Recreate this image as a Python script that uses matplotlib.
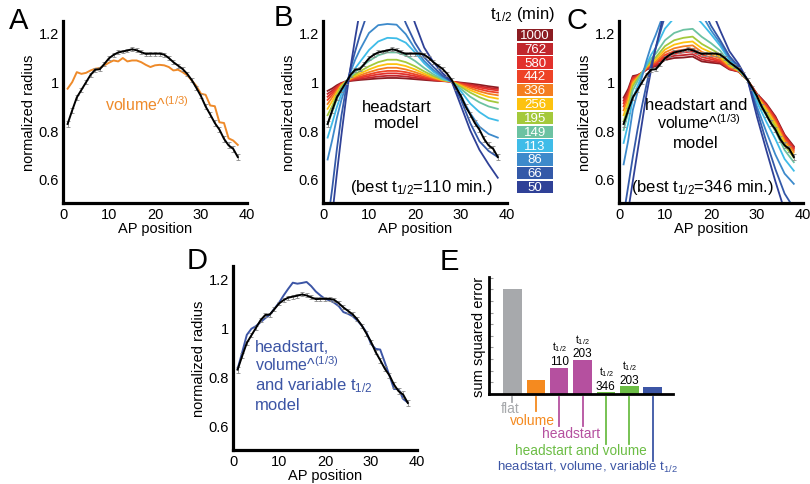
import matplotlib
matplotlib.use("Agg")
import matplotlib.pyplot as plt
import matplotlib.transforms as mtransforms

plt.rcParams['font.family'] = ['Liberation Sans', 'DejaVu Sans']
plt.rcParams['mathtext.fontset'] = 'custom'
plt.rcParams['mathtext.rm'] = 'Liberation Sans'
plt.rcParams['mathtext.it'] = 'Liberation Sans:italic'
plt.rcParams['mathtext.bf'] = 'Liberation Sans:bold'
plt.rcParams['mathtext.sf'] = 'Liberation Sans'

# ---------------- data ----------------
ap_position = list(range(1, 39))
data_radius = [0.826, 0.882, 0.935, 0.966, 0.997, 1.028, 1.049, 1.051, 1.073, 1.096,
               1.110, 1.120, 1.124, 1.128, 1.133, 1.129, 1.121, 1.114, 1.115, 1.115,
               1.115, 1.111, 1.097, 1.080, 1.066, 1.052, 1.032, 1.006, 0.974, 0.940,
               0.898, 0.865, 0.830, 0.803, 0.765, 0.738, 0.724, 0.690]
data_err = [0.012, 0.010, 0.009, 0.008, 0.008, 0.008, 0.008, 0.008, 0.008, 0.008,
            0.008, 0.008, 0.008, 0.008, 0.008, 0.008, 0.008, 0.008, 0.008, 0.008,
            0.008, 0.008, 0.008, 0.008, 0.008, 0.008, 0.008, 0.008, 0.009, 0.009,
            0.010, 0.010, 0.011, 0.011, 0.012, 0.012, 0.013, 0.014]
volume_radius = [0.971, 0.998, 1.039, 1.032, 1.036, 1.046, 1.053, 1.056, 1.067, 1.078,
                 1.087, 1.083, 1.097, 1.083, 1.087, 1.087, 1.080, 1.069, 1.060, 1.067,
                 1.069, 1.067, 1.060, 1.046, 1.049, 1.039, 1.026, 1.005, 0.982, 0.950,
                 0.946, 0.902, 0.899, 0.833, 0.830, 0.767, 0.758, 0.740]
variable_radius = [0.829, 0.897, 0.968, 0.993, 1.004, 1.020, 1.036, 1.050, 1.075, 1.099,
                   1.129, 1.156, 1.181, 1.177, 1.180, 1.184, 1.167, 1.145, 1.129, 1.115,
                   1.109, 1.099, 1.085, 1.061, 1.054, 1.044, 1.027, 1.006, 0.979, 0.931,
                   0.911, 0.908, 0.856, 0.802, 0.747, 0.747, 0.706, 0.692]

model_x = [1, 2, 3, 4, 5, 6, 7, 8, 10, 12, 14, 16, 18, 20, 22, 24, 26, 28, 30, 32, 34, 36, 38]
half_lives = [1000, 762, 580, 442, 336, 256, 195, 149, 113, 86, 66, 50]
half_life_colors = ['#8B1C22', '#C1272D', '#E2312C', '#EE4327', '#F47E20', '#FDC20F',
                    '#A4C93B', '#6CC2A2', '#3FBCE8', '#3D8ACB', '#3459A8', '#2F4197']

# headstart model (panel B)
hs_1000 = [0.962, 0.972, 0.985, 0.995, 1.000, 1.003, 1.005, 1.007, 1.010, 1.013, 1.015, 1.015, 1.013, 1.010, 1.007, 1.004, 1.002, 1.000, 0.996, 0.992, 0.987, 0.981, 0.976]
hs_762 = [0.950, 0.963, 0.980, 0.993, 1.000, 1.005, 1.008, 1.011, 1.016, 1.021, 1.024, 1.024, 1.021, 1.016, 1.011, 1.006, 1.003, 1.000, 0.994, 0.988, 0.981, 0.975, 0.970]
hs_580 = [0.938, 0.955, 0.976, 0.991, 1.000, 1.007, 1.012, 1.016, 1.023, 1.030, 1.034, 1.034, 1.030, 1.023, 1.015, 1.008, 1.003, 1.000, 0.992, 0.984, 0.976, 0.969, 0.964]
hs_442 = [0.925, 0.946, 0.970, 0.989, 1.000, 1.009, 1.015, 1.020, 1.030, 1.039, 1.044, 1.044, 1.039, 1.030, 1.020, 1.011, 1.004, 1.000, 0.990, 0.979, 0.969, 0.960, 0.955]
hs_336 = [0.908, 0.935, 0.963, 0.987, 1.000, 1.011, 1.019, 1.026, 1.039, 1.050, 1.057, 1.057, 1.050, 1.039, 1.026, 1.014, 1.005, 1.000, 0.987, 0.973, 0.960, 0.950, 0.944]
hs_256 = [0.888, 0.920, 0.955, 0.984, 1.000, 1.014, 1.024, 1.033, 1.050, 1.064, 1.072, 1.072, 1.064, 1.050, 1.033, 1.018, 1.006, 1.000, 0.983, 0.965, 0.950, 0.937, 0.930]
hs_195 = [0.862, 0.900, 0.945, 0.980, 1.000, 1.017, 1.030, 1.042, 1.063, 1.080, 1.090, 1.090, 1.080, 1.063, 1.042, 1.023, 1.008, 1.000, 0.978, 0.955, 0.936, 0.922, 0.914]
hs_149 = [0.825, 0.875, 0.928, 0.970, 1.000, 1.022, 1.040, 1.056, 1.085, 1.108, 1.120, 1.120, 1.108, 1.085, 1.056, 1.030, 1.010, 1.000, 0.970, 0.938, 0.915, 0.898, 0.888]
hs_113 = [0.770, 0.830, 0.895, 0.950, 0.990, 1.025, 1.055, 1.080, 1.130, 1.165, 1.180, 1.178, 1.160, 1.120, 1.075, 1.040, 1.015, 1.000, 0.960, 0.910, 0.875, 0.850, 0.840]
hs_86 = [0.680, 0.760, 0.850, 0.925, 0.985, 1.040, 1.090, 1.130, 1.200, 1.232, 1.237, 1.234, 1.195, 1.135, 1.085, 1.048, 1.020, 1.000, 0.940, 0.870, 0.815, 0.785, 0.770]
hs_66 = [0.420, 0.560, 0.720, 0.860, 0.970, 1.055, 1.125, 1.190, 1.300, 1.360, 1.380, 1.340, 1.240, 1.160, 1.100, 1.060, 1.025, 1.000, 0.925, 0.830, 0.755, 0.715, 0.690]
hs_50 = [0.300, 0.450, 0.620, 0.780, 0.930, 1.060, 1.180, 1.290, 1.450, 1.520, 1.540, 1.500, 1.350, 1.240, 1.140, 1.080, 1.035, 1.000, 0.900, 0.800, 0.720, 0.660, 0.605]

# headstart and volume model (panel C)
hv_1000 = [0.934, 0.970, 1.023, 1.027, 1.036, 1.049, 1.058, 1.063, 1.089, 1.097, 1.099, 1.103, 1.083, 1.078, 1.074, 1.050, 1.041, 1.005, 0.950, 0.910, 0.857, 0.782, 0.734]
hv_762 = [0.922, 0.961, 1.018, 1.025, 1.036, 1.051, 1.061, 1.068, 1.095, 1.106, 1.109, 1.113, 1.091, 1.084, 1.079, 1.052, 1.042, 1.005, 0.948, 0.906, 0.852, 0.778, 0.730]
hv_580 = [0.911, 0.953, 1.014, 1.023, 1.036, 1.053, 1.066, 1.073, 1.103, 1.115, 1.120, 1.124, 1.101, 1.092, 1.083, 1.054, 1.042, 1.005, 0.946, 0.903, 0.848, 0.773, 0.725]
hv_442 = [0.898, 0.944, 1.008, 1.021, 1.036, 1.055, 1.069, 1.077, 1.110, 1.125, 1.131, 1.135, 1.111, 1.099, 1.088, 1.057, 1.043, 1.005, 0.945, 0.898, 0.842, 0.766, 0.719]
hv_336 = [0.882, 0.933, 1.001, 1.019, 1.036, 1.058, 1.073, 1.083, 1.120, 1.137, 1.145, 1.149, 1.122, 1.109, 1.095, 1.061, 1.044, 1.005, 0.942, 0.893, 0.835, 0.759, 0.711]
hv_256 = [0.862, 0.918, 0.992, 1.015, 1.036, 1.061, 1.078, 1.091, 1.132, 1.152, 1.161, 1.165, 1.137, 1.120, 1.102, 1.065, 1.045, 1.005, 0.938, 0.885, 0.826, 0.749, 0.700]
hv_195 = [0.837, 0.898, 0.982, 1.011, 1.036, 1.064, 1.085, 1.100, 1.146, 1.170, 1.180, 1.185, 1.155, 1.134, 1.112, 1.070, 1.047, 1.005, 0.933, 0.876, 0.815, 0.737, 0.688]
hv_149 = [0.801, 0.873, 0.964, 1.001, 1.036, 1.069, 1.095, 1.115, 1.170, 1.200, 1.213, 1.217, 1.184, 1.158, 1.127, 1.077, 1.049, 1.005, 0.926, 0.861, 0.797, 0.719, 0.669]
hv_113 = [0.748, 0.828, 0.930, 0.980, 1.026, 1.072, 1.111, 1.140, 1.218, 1.262, 1.278, 1.280, 1.240, 1.195, 1.147, 1.088, 1.055, 1.005, 0.916, 0.836, 0.764, 0.682, 0.634]
hv_86 = [0.660, 0.758, 0.883, 0.955, 1.020, 1.088, 1.148, 1.193, 1.294, 1.334, 1.340, 1.341, 1.277, 1.211, 1.158, 1.096, 1.060, 1.005, 0.897, 0.795, 0.700, 0.622, 0.580]
hv_66 = [0.450, 0.570, 0.690, 0.800, 0.900, 0.990, 1.070, 1.140, 1.270, 1.360, 1.420, 1.400, 1.310, 1.230, 1.170, 1.105, 1.062, 1.005, 0.880, 0.755, 0.640, 0.540, 0.480]
hv_50 = [0.350, 0.470, 0.590, 0.710, 0.830, 0.950, 1.050, 1.140, 1.300, 1.420, 1.500, 1.480, 1.400, 1.300, 1.210, 1.125, 1.072, 1.005, 0.855, 0.720, 0.590, 0.470, 0.420]

headstart_curves = [hs_1000, hs_762, hs_580, hs_442, hs_336, hs_256, hs_195, hs_149, hs_113, hs_86, hs_66, hs_50]
hv_curves = [hv_1000, hv_762, hv_580, hv_442, hv_336, hv_256, hv_195, hv_149, hv_113, hv_86, hv_66, hv_50]

# panel E
sse_models = ['flat', 'volume', 'headstart', 'headstart', 'headstart and volume', 'headstart and volume', 'headstart, volume, variable']
sse_values = [3.17, 0.42, 0.79, 1.02, 0.05, 0.23, 0.20]
sse_halflife = ['', '', '110', '203', '346', '203', '']
sse_colors = ['#A7A9AC', '#F58A1F', '#B5509F', '#B5509F', '#6CBD45', '#6CBD45', '#3C55A5']

# ---------------- layout helpers ----------------
W, H = 810, 485
fig = plt.figure(figsize=(W / 100, H / 100), dpi=100)


def add_px_axes(x0, x1, y0, y1):
    return fig.add_axes([x0 / W, 1 - y1 / H, (x1 - x0) / W, (y1 - y0) / H])


def ftext(x, y, s, **kw):
    return fig.text(x / W, 1 - y / H, s, **kw)


def style_curve_axes(ax):
    ax.set_xlim(0, 40)
    ax.set_ylim(0.5, 1.25)
    ax.set_xticks([0, 10, 20, 30, 40])
    ax.set_yticks([0.6, 0.8, 1.0, 1.2])
    ax.set_yticklabels(['0.6', '0.8', '1', '1.2'])
    for s in ['top', 'right']:
        ax.spines[s].set_visible(False)
    for s in ['left', 'bottom']:
        ax.spines[s].set_linewidth(2.3)
    ax.tick_params(length=0, labelsize=10.5, pad=3)
    ax.set_xlabel('AP position', fontsize=10.5, labelpad=0)
    ax.set_ylabel('normalized radius', fontsize=10.5, labelpad=2)
    ax.patch.set_alpha(0)


def draw_data(ax):
    ax.errorbar(ap_position, data_radius, yerr=data_err, fmt='-', color='black', lw=1.4,
                ecolor='#8a8a8a', elinewidth=0.6, capsize=1.2, capthick=0.6, zorder=5)


VOL_TEXT = r'volume^$^{(1/3)}$'

axA = add_px_axes(63, 247, 21.8, 204.3)
axB = add_px_axes(323, 507, 21.8, 204.3)
axC = add_px_axes(619, 803, 21.8, 204.3)
axD = add_px_axes(233, 417, 266.8, 450.5)
axE = add_px_axes(489, 673, 278, 395)

for ax in (axA, axB, axC, axD):
    style_curve_axes(ax)

# Panel A
axA.plot(ap_position, volume_radius, color='#EE8A2A', lw=1.4, zorder=4)
draw_data(axA)
ftext(105, 105, VOL_TEXT, color='#EE8A2A', fontsize=11.5, ha='left', va='center')

# Panel B
for curve, c in zip(headstart_curves, half_life_colors):
    axB.plot(model_x, curve, color=c, lw=1.3)
draw_data(axB)
ftext(397, 107, 'headstart', fontsize=12, ha='center', va='center')
ftext(397, 124, 'model', fontsize=12, ha='center', va='center')
ftext(421, 188, r'(best t$_{1/2}$=110 min.)', fontsize=12, ha='center', va='center')

# Panel C
for curve, c in zip(hv_curves, half_life_colors):
    axC.plot(model_x, curve, color=c, lw=1.3)
draw_data(axC)
ftext(696, 105, 'headstart and', fontsize=12, ha='center', va='center')
ftext(657, 123, VOL_TEXT, color='black', fontsize=11.5, ha='left', va='center')
ftext(696, 143, 'model', fontsize=12, ha='center', va='center')
ftext(702, 188, r'(best t$_{1/2}$=346 min.)', fontsize=12, ha='center', va='center')

# Legend of half-lives
leg = add_px_axes(517, 553, 29, 195)
leg.set_xlim(0, 1)
leg.set_ylim(len(half_lives) - 0.5, -0.5)
for i, (hl, c) in enumerate(zip(half_lives, half_life_colors)):
    leg.barh(i, 1, height=0.9, left=0, color=c)
    leg.text(0.5, i, str(hl), color='white', ha='center', va='center', fontsize=9.5)
leg.axis('off')
ftext(522, 14, r't$_{1/2}$ (min)', fontsize=12, ha='center', va='center')

# Panel D
axD.plot(ap_position, variable_radius, color='#3C55A5', lw=1.4, zorder=4)
draw_data(axD)
blue = '#3C55A5'
ftext(255, 347, 'headstart,', fontsize=12, color=blue, ha='left', va='center')
ftext(255, 365, VOL_TEXT, color=blue, fontsize=11.5, ha='left', va='center')
ftext(255, 386, r'and variable t$_{1/2}$', fontsize=12, color=blue, ha='left', va='center')
ftext(255, 405, 'model', fontsize=12, color=blue, ha='left', va='center')

# Panel E
positions = list(range(1, len(sse_values) + 1))
axE.bar(positions, sse_values, width=0.79, color=sse_colors, zorder=2)
axE.set_xlim(0, 7.87)
axE.set_ylim(0, 3.52)
axE.set_xticks([])
axE.set_yticks([0.35 * i for i in range(11)])
axE.tick_params(axis='y', direction='in', length=3, color='#9a9a9a', labelleft=False)
for s in ['top', 'right']:
    axE.spines[s].set_visible(False)
for s in ['left', 'bottom']:
    axE.spines[s].set_linewidth(2.0)
axE.set_ylabel('sum squared error', fontsize=10.5, labelpad=2)
axE.patch.set_alpha(0)
for p, v, hl in zip(positions, sse_values, sse_halflife):
    if hl:
        axE.annotate(hl, xy=(p, v), xytext=(0, 0.5), textcoords='offset points',
                     ha='center', va='bottom', fontsize=8.5)
        axE.annotate(r't$_{1/2}$', xy=(p, v), xytext=(0, 10.5), textcoords='offset points',
                     ha='center', va='bottom', fontsize=7.5)

blend = mtransforms.blended_transform_factory(axE.transData, axE.transAxes)


def efrac(ypx):
    return (395 - ypx) / 117


line_ends = [403, 412, 427, 427, 445, 445, 462]
for p, yend, c in zip(positions, line_ends, sse_colors):
    axE.plot([p, p], [efrac(398), efrac(yend)], color=c, lw=1.3, transform=blend, clip_on=False)

ftext(510, 409, 'flat', color='#A7A9AC', fontsize=10, ha='center', va='center')
ftext(532, 421, 'volume', color='#F58A1F', fontsize=10, ha='center', va='center')
ftext(571, 434, 'headstart', color='#B5509F', fontsize=10, ha='center', va='center')
ftext(581, 451, 'headstart and volume', color='#6CBD45', fontsize=9.8, ha='center', va='center')
ftext(588, 467, r'headstart, volume, variable t$_{1/2}$', color='#3C55A5', fontsize=9.5, ha='center', va='center')

# panel letters
for letter, x, y in [('A', 9, 21), ('B', 274, 18), ('C', 567, 21), ('D', 187, 261), ('E', 440, 262)]:
    ftext(x, y, letter, fontsize=21, ha='left', va='center')

fig.savefig('out.png', dpi=100)
